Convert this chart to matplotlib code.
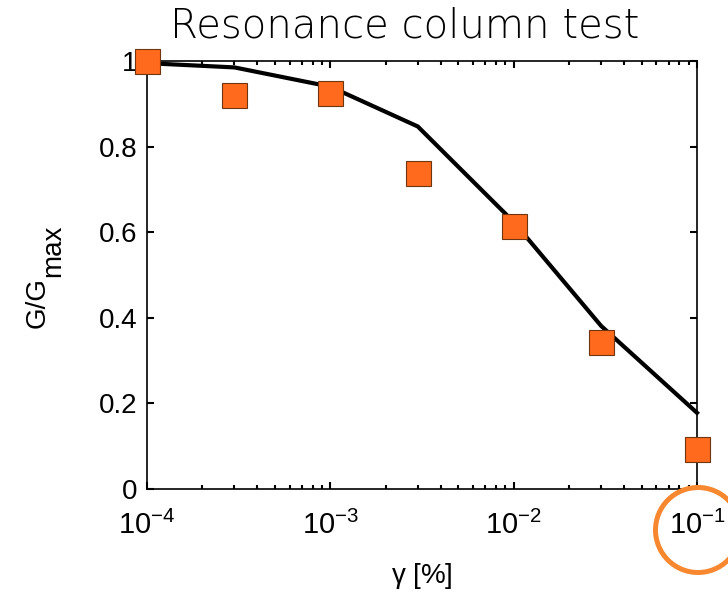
import numpy as np
import matplotlib
matplotlib.use('Agg')
import matplotlib.pyplot as plt
from matplotlib.patches import Ellipse
from matplotlib.ticker import LogLocator, LogFormatterMathtext, NullFormatter

plt.rcParams['font.family'] = ['Liberation Sans', 'DejaVu Sans']
plt.rcParams['mathtext.fontset'] = 'custom'
plt.rcParams['mathtext.rm'] = 'Liberation Sans'
plt.rcParams['mathtext.it'] = 'Liberation Sans'
plt.rcParams['mathtext.default'] = 'regular'

# measured points (squares)
gamma_meas = [1e-4, 3e-4, 1e-3, 3e-3, 1e-2, 3e-2, 1e-1]
g_meas = [1.0, 0.921, 0.925, 0.738, 0.614, 0.343, 0.093]

# fitted curve
gamma_fit = [1e-4, 3e-4, 1e-3, 3e-3, 1e-2, 3e-2, 1e-1]
g_fit = [0.995, 0.985, 0.940, 0.847, 0.624, 0.381, 0.178]

W, H = 728, 594
fig = plt.figure(figsize=(W / 100, H / 100), dpi=100)
ax = fig.add_axes([147 / W, (H - 489) / H, 550 / W, 428 / H])

ax.plot(gamma_fit, g_fit, color='black', lw=3.0, zorder=3, clip_on=False)
ax.plot(gamma_meas, g_meas, 's', ms=18, mfc='#ff6a1c', mec='#6e3510', mew=0.8,
        linestyle='none', zorder=4, clip_on=False)

ax.set_xscale('log')
ax.set_xlim(1e-4, 1e-1)
ax.set_ylim(0, 1)
ax.xaxis.set_major_locator(LogLocator(base=10, numticks=10))
ax.xaxis.set_major_formatter(LogFormatterMathtext())
ax.xaxis.set_minor_locator(LogLocator(base=10, subs=np.arange(2, 10), numticks=10))
ax.xaxis.set_minor_formatter(NullFormatter())
ax.set_yticks([0, 0.2, 0.4, 0.6, 0.8, 1])
ax.set_yticklabels(['0', '0.2', '0.4', '0.6', '0.8', '1'])

ax.tick_params(which='both', direction='in', top=True, right=True, width=1.5)
ax.tick_params(axis='x', which='major', labelsize=21, pad=16)
ax.tick_params(axis='y', which='major', labelsize=20, pad=7)
ax.tick_params(which='major', length=5)
ax.tick_params(which='minor', length=3)
for s in ax.spines.values():
    s.set_linewidth(1.2)

ax.set_xlabel(r'$\gamma$ [%]', fontsize=20, labelpad=15)

# y label with a full-size lowered "max"
fig.text(45 / W, (H - 328) / H, 'G/G', fontsize=20, rotation=90,
         rotation_mode='anchor', ha='left', va='baseline')
fig.text(60 / W, (H - 277) / H, 'max', fontsize=20, rotation=90,
         rotation_mode='anchor', ha='left', va='baseline')

fig.text(405 / W, (H - 37) / H, 'Resonance column test', fontsize=29,
         family=['DejaVu Sans'], fontweight='light', ha='center', va='baseline')

# highlight around the 10^-1 label
circ = Ellipse((698 / W, (H - 530) / H), 85 / W, 85 / H,
               transform=fig.transFigure, fill=False, ec='#f7882f', lw=3.6)
fig.patches.append(circ)

plt.savefig('out.png', dpi=100)
